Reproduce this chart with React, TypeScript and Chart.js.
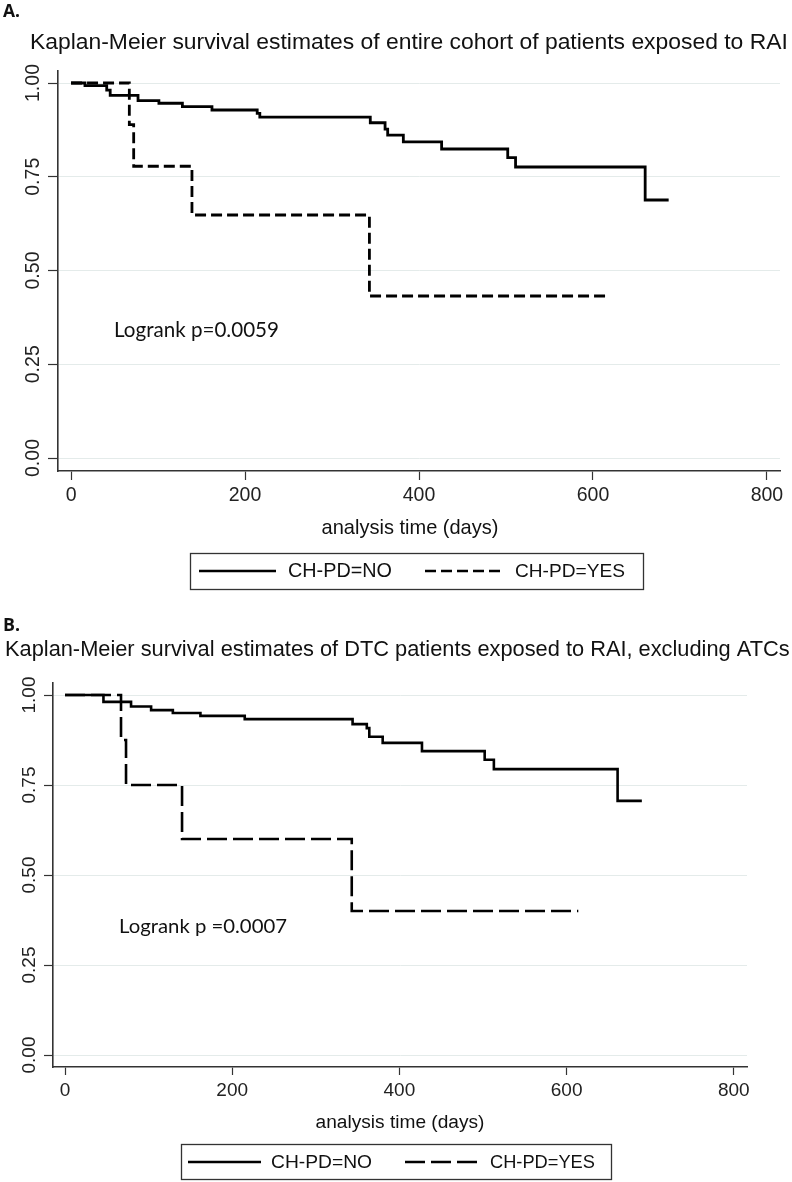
import React, { useEffect, useRef } from 'react';
import { Chart, registerables } from 'chart.js';

Chart.register(...registerables);

// ---------- data ----------
const xTickValues = [0, 200, 400, 600, 800];
const xTickLabels = ['0', '200', '400', '600', '800'];
const yTickValues = [0, 0.25, 0.5, 0.75, 1];
const yTickLabels = ['0.00', '0.25', '0.50', '0.75', '1.00'];
const seriesNames = ['CH-PD=NO', 'CH-PD=YES'];
const xAxisTitle = 'analysis time (days)';

// Panel A: entire cohort
const panelALetter = 'A.';
const panelATitle = 'Kaplan-Meier survival estimates of entire cohort of patients exposed to RAI';
const panelALogrank = 'Logrank p=0.0059';
const aNoDays = [0, 16, 41, 45, 77, 101, 128, 162, 214, 217, 344, 361, 364, 382, 426, 502, 511, 660, 687];
const aNoSurv = [1, 0.993, 0.981, 0.967, 0.953, 0.946, 0.937, 0.928, 0.919, 0.909, 0.894, 0.877, 0.861, 0.843, 0.824, 0.801, 0.776, 0.688, 0.688];
const aYesDays = [0, 67, 72, 139, 343, 616];
const aYesSurv = [1, 0.889, 0.778, 0.648, 0.432, 0.432];

// Panel B: DTC patients, excluding ATCs
const panelBLetter = 'B.';
const panelBTitle = 'Kaplan-Meier survival estimates of DTC patients exposed to RAI, excluding ATCs';
const panelBLogrank = 'Logrank p =0.0007';
const bNoDays = [0, 46, 79, 103, 129, 162, 215, 344, 361, 364, 380, 427, 502, 513, 661, 690];
const bNoSurv = [1, 0.981, 0.968, 0.958, 0.95, 0.942, 0.933, 0.919, 0.908, 0.884, 0.867, 0.844, 0.82, 0.794, 0.706, 0.706];
const bYesDays = [0, 67, 73, 140, 343, 614];
const bYesSurv = [1, 0.875, 0.75, 0.6, 0.4, 0.4];

// ---------- layout ----------
const SANS = '"Liberation Sans", Arial, sans-serif';
const HUMAN = 'Lato, "Open Sans", sans-serif';
const BOLD = '"Open Sans", "Liberation Sans", sans-serif';

type TextSpec = { text: string; x: number; cy: number; w: number; size: number };

type Layout = {
  height: number;
  left: number; right: number; top: number; bottom: number;
  xMin: number; xMax: number; yMin: number; yMax: number;
  letter: TextSpec;
  title: { text: string; x: number; cy: number; w: number };
  logrank: TextSpec;
  xTitle: { cx: number; cy: number; w: number };
  yLabelX: number;
  yTickLen: number; xTickLen: number;
  tickFont: number;
  tickPad: number;
  legend: { box: number[]; y: number; solid: number[]; dashed: number[]; noX: number; noW: number; yesX: number; yesW: number };
  dash: number[];
  lineWidth: number;
};

const layoutA: Layout = {
  height: 600,
  left: 58, right: 780, top: 71, bottom: 471,
  xMin: -15, xMax: 815, yMin: -13 / 375, yMax: 1 + 12 / 375,
  letter: { text: panelALetter, x: 3, cy: 12, w: 17, size: 17 },
  title: { text: panelATitle, x: 30, cy: 43, w: 758 },
  logrank: { text: panelALogrank, x: 114, cy: 330, w: 165, size: 21 },
  xTitle: { cx: 410, cy: 528, w: 177 },
  yLabelX: 34,
  yTickLen: 10, xTickLen: 9,
  tickFont: 19.5,
  tickPad: 4,
  legend: { box: [190, 553, 643, 589], y: 571, solid: [199, 276], dashed: [425, 502], noX: 288, noW: 104, yesX: 515, yesW: 110 },
  dash: [11, 5],
  lineWidth: 2.8,
};

const layoutB: Layout = {
  height: 582,
  left: 53, right: 747, top: 83, bottom: 467,
  xMin: -12 / 0.836, xMax: 682 / 0.836, yMin: -12 / 360, yMax: 1 + 12 / 360,
  letter: { text: panelBLetter, x: 3, cy: 26, w: 17, size: 17 },
  title: { text: panelBTitle, x: 5, cy: 50, w: 785 },
  logrank: { text: panelBLogrank, x: 119, cy: 327, w: 168, size: 19 },
  xTitle: { cx: 400, cy: 523, w: 169 },
  yLabelX: 30,
  yTickLen: 9, xTickLen: 8,
  tickFont: 19,
  tickPad: 4,
  legend: { box: [181, 544, 611, 579], y: 562, solid: [188, 261], dashed: [405, 477], noX: 271, noW: 101, yesX: 490, yesW: 105 },
  dash: [20, 6],
  lineWidth: 2.6,
};

function fitFont(ctx: CanvasRenderingContext2D, text: string, family: string, weight: string, width: number) {
  ctx.font = `${weight} 100px ${family}`;
  const w = ctx.measureText(text).width;
  const size = (100 * width) / w;
  return `${weight} ${size.toFixed(2)}px ${family}`;
}

// draw text at a given font size, horizontally scaled to a target width
function drawScaled(ctx: CanvasRenderingContext2D, t: TextSpec, family: string, weight: string) {
  ctx.save();
  ctx.font = `${weight} ${t.size}px ${family}`;
  const w = ctx.measureText(t.text).width;
  const sx = t.w / w;
  ctx.translate(t.x, t.cy);
  ctx.scale(sx, 1);
  ctx.textAlign = 'left';
  ctx.textBaseline = 'middle';
  ctx.fillText(t.text, 0, 0);
  ctx.restore();
}

function makeTextPlugin(L: Layout) {
  return {
    id: 'panelText',
    afterDraw(chart: any) {
      const ctx: CanvasRenderingContext2D = chart.ctx;
      ctx.save();
      ctx.fillStyle = '#111';
      ctx.textBaseline = 'middle';
      ctx.textAlign = 'left';

      // panel letter
      drawScaled(ctx, L.letter, BOLD, 'bold');

      // title
      ctx.font = fitFont(ctx, L.title.text, SANS, 'normal', L.title.w);
      ctx.fillText(L.title.text, L.title.x, L.title.cy);

      // logrank annotation
      drawScaled(ctx, L.logrank, HUMAN, 'normal');

      // x axis title
      ctx.textAlign = 'center';
      ctx.font = fitFont(ctx, xAxisTitle, SANS, 'normal', L.xTitle.w);
      ctx.fillText(xAxisTitle, L.xTitle.cx, L.xTitle.cy);

      // y tick labels (rotated)
      const ys = chart.scales.y;
      ctx.font = `normal ${L.tickFont}px ${SANS}`;
      ctx.fillStyle = '#222';
      yTickValues.forEach((v, i) => {
        const py = ys.getPixelForValue(v);
        ctx.save();
        ctx.translate(L.yLabelX, py);
        ctx.rotate(-Math.PI / 2);
        ctx.textAlign = 'center';
        ctx.textBaseline = 'middle';
        ctx.fillText(yTickLabels[i], 0, 0);
        ctx.restore();
      });

      // legend
      const lg = L.legend;
      ctx.strokeStyle = '#333';
      ctx.lineWidth = 1.3;
      ctx.setLineDash([]);
      ctx.strokeRect(lg.box[0] + 0.5, lg.box[1] + 0.5, lg.box[2] - lg.box[0], lg.box[3] - lg.box[1]);
      const ds = chart.data.datasets;
      const samples = [lg.solid, lg.dashed];
      const textX = [lg.noX, lg.yesX];
      const textW = [lg.noW, lg.yesW];
      ds.forEach((d: any, i: number) => {
        ctx.strokeStyle = '#000';
        ctx.lineWidth = 2.6;
        ctx.setLineDash(d.borderDash || []);
        ctx.beginPath();
        ctx.moveTo(samples[i][0], lg.y);
        ctx.lineTo(samples[i][1], lg.y);
        ctx.stroke();
        ctx.setLineDash([]);
        ctx.fillStyle = '#111';
        ctx.textAlign = 'left';
        ctx.textBaseline = 'middle';
        ctx.font = fitFont(ctx, d.label, SANS, 'normal', textW[i]);
        ctx.fillText(d.label, textX[i], lg.y + 1);
      });
      ctx.restore();
    },
  };
}

function KMPanel({ L, noDays, noSurv, yesDays, yesSurv }: { L: Layout; noDays: number[]; noSurv: number[]; yesDays: number[]; yesSurv: number[] }) {
  const ref = useRef<HTMLCanvasElement>(null);
  useEffect(() => {
    const canvas = ref.current;
    if (!canvas) return;
    const xAxisH = 40;
    const chart = new Chart(canvas, {
      type: 'line',
      data: {
        datasets: [
          {
            label: seriesNames[0],
            data: noDays.map((d, i) => ({ x: d, y: noSurv[i] })),
            borderColor: '#000',
            borderWidth: L.lineWidth,
            pointRadius: 0,
            stepped: 'before',
            borderDash: [],
            fill: false,
          },
          {
            label: seriesNames[1],
            data: yesDays.map((d, i) => ({ x: d, y: yesSurv[i] })),
            borderColor: '#000',
            borderWidth: L.lineWidth,
            pointRadius: 0,
            stepped: 'before',
            borderDash: L.dash,
            fill: false,
          },
        ],
      },
      options: {
        animation: false,
        responsive: false,
        devicePixelRatio: 1,
        events: [],
        layout: { padding: { left: 0, right: 792 - L.right, top: L.top, bottom: L.height - L.bottom - xAxisH } },
        plugins: { legend: { display: false }, title: { display: false }, tooltip: { enabled: false } },
        scales: {
          x: {
            type: 'linear',
            min: L.xMin,
            max: L.xMax,
            afterBuildTicks: (s: any) => { s.ticks = xTickValues.map((v) => ({ value: v })); },
            afterFit: (s: any) => { s.height = xAxisH; },
            ticks: {
              autoSkip: false,
              maxRotation: 0,
              padding: L.tickPad,
              color: '#222',
              font: { family: SANS, size: L.tickFont },
              callback: (_v: any, i: number) => xTickLabels[i],
            },
            grid: { drawOnChartArea: false, drawTicks: true, tickLength: L.xTickLen, tickColor: '#333', tickWidth: 1.2 },
            border: { display: true, color: '#333', width: 1.6 },
          },
          y: {
            type: 'linear',
            min: L.yMin,
            max: L.yMax,
            afterBuildTicks: (s: any) => { s.ticks = yTickValues.map((v) => ({ value: v })); },
            afterFit: (s: any) => { s.width = L.left; },
            ticks: { display: false },
            grid: { color: '#e4ebea', lineWidth: 1, drawTicks: true, tickLength: L.yTickLen, tickColor: '#333', tickWidth: 1.2 },
            border: { display: true, color: '#333', width: 1.6 },
          },
        },
      } as any,
      plugins: [makeTextPlugin(L)],
    });
    return () => chart.destroy();
  }, []);
  return <canvas ref={ref} width={792} height={L.height} style={{ display: 'block', width: 792, height: L.height }} />;
}

export default function App() {
  return (
    <div style={{ position: 'absolute', left: 0, top: 0, width: 792, height: 1182, background: '#fff' }}>
      <KMPanel L={layoutA} noDays={aNoDays} noSurv={aNoSurv} yesDays={aYesDays} yesSurv={aYesSurv} />
      <KMPanel L={layoutB} noDays={bNoDays} noSurv={bNoSurv} yesDays={bYesDays} yesSurv={bYesSurv} />
    </div>
  );
}
